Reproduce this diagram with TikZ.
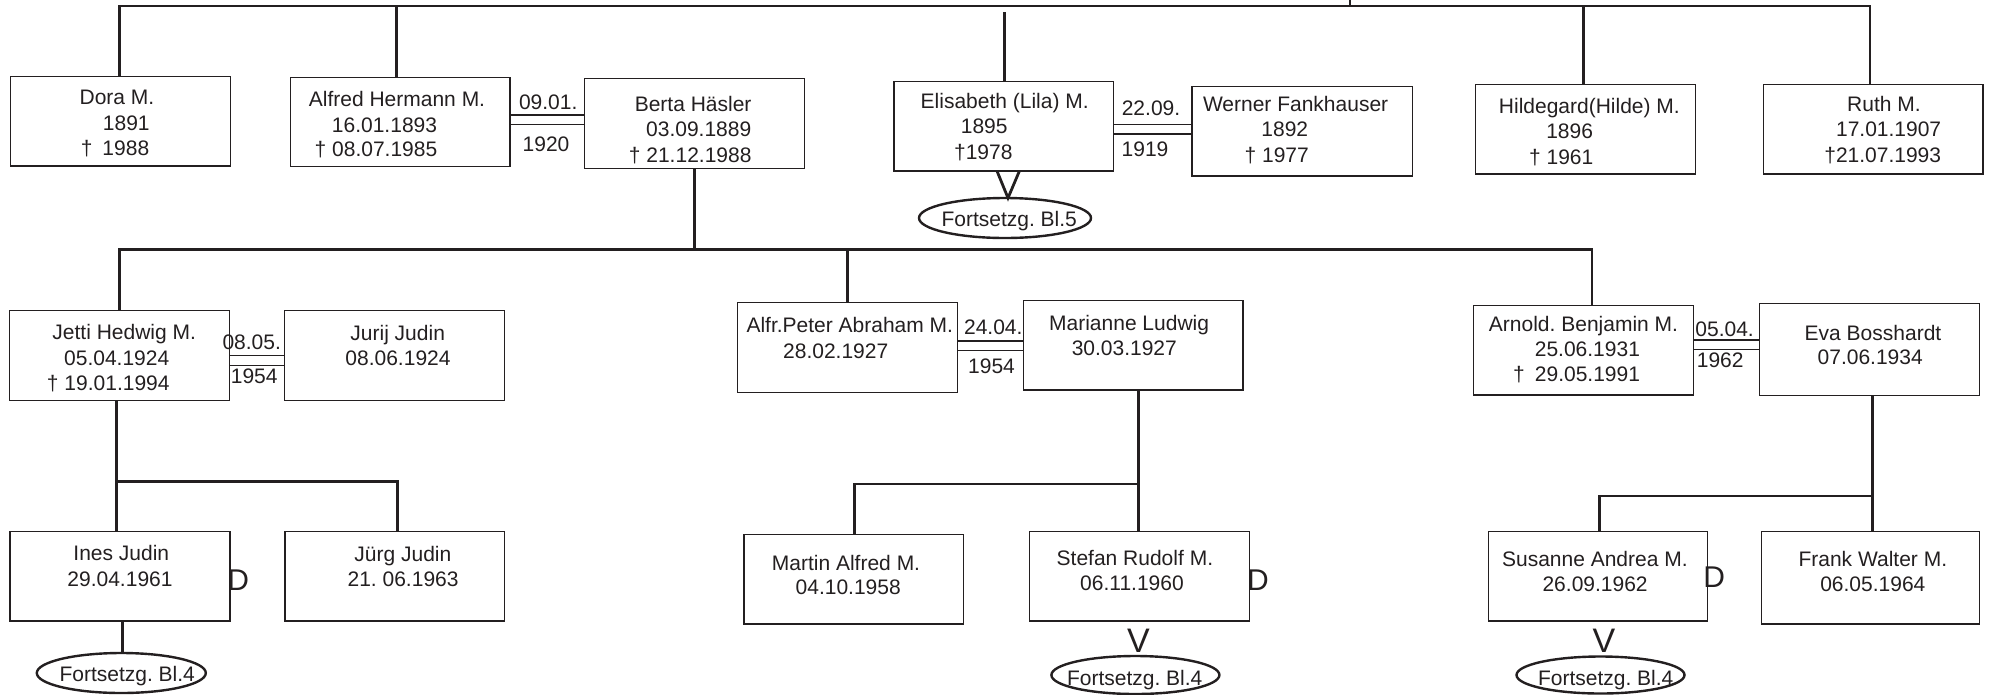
\documentclass[tikz,border=0pt]{standalone}
\usepackage{fontspec}
\setmainfont{Liberation Sans}
\usetikzlibrary{fit,shapes.geometric}
\definecolor{ink}{RGB}{35,31,32}
\newcommand\famrect[5]{\node[famb, fit={(#2,#3) (#4,#5)}] (#1) {};}
\newcommand\famline[4]{\node[famt] (#1) at (#2,#3) {#4};}
\frenchspacing
\begin{document}
\begin{tikzpicture}[x=1pt,y=-1pt,
  famb/.style={draw=ink, line width=1.4pt, rectangle, inner sep=0pt, outer sep=0pt},
  famt/.style={inner sep=0pt, anchor=base, text=ink, font=\fontsize{21}{25}\selectfont\frenchspacing},
  conn/.style={draw=ink, line width=2.8pt},
  marr/.style={draw=ink, line width=1.2pt},
  bigD/.style={inner sep=0pt, anchor=base, text=ink, font=\fontsize{30}{30}\selectfont},
  bigV/.style={inner sep=0pt, anchor=base, text=ink, font=\fontsize{34}{34}\selectfont},
  cont/.style={ellipse, draw=ink, line width=2.4pt, inner sep=0pt, outer sep=0pt}]
\useasboundingbox (0,0) rectangle (1991,694);

% ---------- row 1 boxes ----------
\famrect{dora}{10.7}{76.7}{230.7}{166}
\famrect{alfred}{290.6}{77.3}{510}{166.7}
\famrect{berta}{584.4}{78.7}{804.6}{168.3}
\famrect{elis}{894}{81.7}{1113.3}{171}
\famrect{werner}{1191.8}{86.7}{1412.3}{176}
\famrect{hilde}{1475.5}{84.3}{1695.3}{174}
\famrect{ruth}{1763.5}{84.3}{1982.9}{174}

\famline{doraA}{117}{104.3}{Dora M.}
\famline{doraB}{126.3}{130}{1891}
\famline{doraC}{115}{155}{†\hspace{10pt}1988}
\famline{alfA}{397}{106}{Alfred Hermann M.}
\famline{alfB}{384.5}{132}{16.01.1893}
\famline{alfC}{376}{156.7}{† 08.07.1985}
\famline{m1A}{548.2}{109.3}{09.01.}
\famline{m1B}{546}{151}{1920}
\famline{berA}{693.1}{111}{Berta Häsler}
\famline{berB}{698.7}{136}{03.09.1889}
\famline{berC}{690.2}{162.3}{† 21.12.1988}
\famline{elA}{1004.7}{108.3}{Elisabeth (Lila) M.}
\famline{elB}{984.2}{133.3}{1895}
\famline{elC}{983.3}{159}{†1978}
\famline{m2A}{1151}{115.7}{22.09.}
\famline{m2B}{1145}{156.7}{1919}
\famline{weA}{1295.6}{111}{Werner Fankhauser}
\famline{weB}{1284.8}{136}{1892}
\famline{weC}{1276.7}{162.3}{† 1977}
\famline{hiA}{1589.4}{113.3}{Hildegard(Hilde) M.}
\famline{hiB}{1569.6}{138.3}{1896}
\famline{hiC}{1561.2}{164}{† 1961}
\famline{ruA}{1883.9}{111.7}{Ruth M.}
\famline{ruB}{1888.6}{136.7}{17.01.1907}
\famline{ruC}{1882.7}{162.3}{†21.07.1993}

% ---------- row 2 boxes ----------
\famrect{jetti}{9.5}{310.7}{229.4}{400.5}
\famrect{jurij}{284.4}{310.7}{504.5}{400.7}
\famrect{alfrp}{737.7}{302.7}{957.5}{392.7}
\famrect{marianne}{1023.4}{300.3}{1243.1}{390}
\famrect{arnold}{1473.7}{305.3}{1693.7}{395}
\famrect{eva}{1759.3}{303.3}{1979.3}{395.7}

\famline{jeA}{124.2}{339.3}{Jetti Hedwig M.}
\famline{jeB}{116.7}{365}{05.04.1924}
\famline{jeC}{108.3}{390}{† 19.01.1994}
\famline{m3A}{251.7}{349.3}{08.05.}
\famline{m3B}{254.2}{383.3}{1954}
\famline{juA}{397.7}{340}{Jurij Judin}
\famline{juB}{398}{365}{08.06.1924}
\famline{apA}{849.8}{332.3}{Alfr.Peter Abraham M.}
\famline{apB}{835.7}{358.3}{28.02.1927}
\famline{m4A}{993.3}{334.3}{24.04.}
\famline{m4B}{991.5}{373.3}{1954}
\famline{maA}{1129.1}{330}{Marianne Ludwig}
\famline{maB}{1124.3}{355}{30.03.1927}
\famline{arA}{1583.5}{331}{Arnold. Benjamin M.}
\famline{arB}{1587.4}{356}{25.06.1931}
\famline{arC}{1576.6}{381.5}{†\hspace{10pt}29.05.1991}
\famline{m5A}{1724.6}{336}{05.04.}
\famline{m5B}{1720.2}{367.3}{1962}
\famline{evA}{1873}{340}{Eva Bosshardt}
\famline{evB}{1870.2}{364.5}{07.06.1934}

% ---------- row 3 boxes ----------
\famrect{ines}{10}{531.7}{230}{621}
\famrect{juerg}{284.8}{531.7}{504.5}{621}
\famrect{martin}{744}{534.3}{963.7}{624}
\famrect{stefan}{1029.6}{531.7}{1249.3}{621}
\famrect{susanne}{1488.2}{531.7}{1707.4}{621}
\famrect{frank}{1761.3}{531.7}{1979.3}{624}

\famline{inA}{121.3}{560}{Ines Judin}
\famline{inB}{120}{586.7}{29.04.1961}
\famline{jgA}{402.9}{561.7}{Jürg Judin}
\famline{jgB}{403.1}{586.7}{21. 06.1963}
\famline{mtA}{846}{570}{Martin Alfred M.}
\famline{mtB}{848.2}{594.3}{04.10.1958}
\famline{stA}{1134.9}{565}{Stefan Rudolf M.}
\famline{stB}{1132}{590}{06.11.1960}
\famline{suA}{1594.9}{566}{Susanne Andrea M.}
\famline{suB}{1595.1}{591.7}{26.09.1962}
\famline{frA}{1872.8}{566.7}{Frank Walter M.}
\famline{frB}{1872.8}{591.7}{06.05.1964}

\node[bigD] (dI) at (238.3,590) {D};
\node[bigD] (dS) at (1258,590.7) {D};
\node[bigD] (dA) at (1714.3,587.3) {D};
\node[bigV] (vS) at (1138.5,652.7) {V};
\node[bigV] (vA) at (1604,652.7) {V};

% ---------- continuation ellipses ----------
\node[cont, minimum width=172pt, minimum height=40pt] (f5) at (1005,218) {};
\node[cont, minimum width=169pt, minimum height=40pt] (fI) at (121.3,673) {};
\node[cont, minimum width=168pt, minimum height=38pt] (fS) at (1135.4,675) {};
\node[cont, minimum width=168pt, minimum height=37pt] (fA) at (1600.5,675) {};
\famline{f5t}{1009.2}{226}{Fortsetzg. Bl.5}
\famline{fIt}{127.2}{681.7}{Fortsetzg. Bl.4}
\famline{fSt}{1134.7}{685}{Fortsetzg. Bl.4}
\famline{fAt}{1605.7}{685}{Fortsetzg. Bl.4}

% ---------- generation 1 bar ----------
\coordinate (barL) at (119.3,6);
\coordinate (barR) at (1870,6);
\coordinate (tick) at (1350,0);
\coordinate (gapE) at (1004.6,11.7);
\draw[conn] (dora.north -| barL) -- (barL) -- (barR) -- (ruth.north -| barR);
\draw[conn] (alfred.north -| 396.6,0) -- (396.6,6 |- barL);
\draw[conn] (elis.north -| gapE) -- (gapE);
\draw[conn] (hilde.north -| 1583.4,0) -- (1583.4,0 |- barL);
\draw[conn] (tick) -- (tick |- barL);

% marriages row 1
\draw[marr] (alfred.east |- 0,115) -- (berta.west |- 0,115);
\draw[marr] (alfred.east |- 0,124.3) -- (berta.west |- 0,124.3);
\draw[marr] (elis.east |- 0,124.5) -- (werner.west |- 0,124.5);
\draw[marr] (elis.east |- 0,134) -- (werner.west |- 0,134);

% Elisabeth continuation
\draw[draw=ink, line width=2.8pt, line join=miter] (elis.south -| 997,0) -- (f5.north -| 1008,0) -- (elis.south -| 1019.4,0);

% ---------- generation 2 bar ----------
\coordinate (bar2L) at (119.6,249.3);
\coordinate (bar2R) at (1592,249.3);
\draw[conn] (berta.south) -- (berta.south |- bar2L);
\draw[conn] (jetti.north -| bar2L) -- (bar2L) -- (bar2R) -- (arnold.north -| bar2R);
\draw[conn] (alfrp.north -| 847.2,0) -- (847.2,0 |- bar2L);

% marriages row 2
\draw[marr] (jetti.east |- 0,355.7) -- (jurij.west |- 0,355.7);
\draw[marr] (jetti.east |- 0,365.3) -- (jurij.west |- 0,365.3);
\draw[marr] (alfrp.east |- 0,341) -- (marianne.west |- 0,341);
\draw[marr] (alfrp.east |- 0,350.7) -- (marianne.west |- 0,350.7);
\draw[marr] (arnold.east |- 0,340) -- (eva.west |- 0,340);
\draw[marr] (arnold.east |- 0,349.3) -- (eva.west |- 0,349.3);

% ---------- generation 3 ----------
\coordinate (k1) at (116.5,481.7);
\draw[conn] (jetti.south -| k1) -- (ines.north -| k1);
\draw[conn] (k1) -| (juerg.north -| 397.3,0);
\draw[conn] (ines.south -| 122.7,0) -- (fI.north -| 122.7,0);

\coordinate (k2) at (1138.6,484);
\draw[conn] (marianne.south -| k2) -- (stefan.north -| k2);
\draw[conn] (k2) -| (martin.north -| 854.6,0);

\coordinate (k3) at (1872.6,496);
\draw[conn] (eva.south -| k3) -- (frank.north -| k3);
\draw[conn] (k3) -| (susanne.north -| 1599.4,0);
\end{tikzpicture}
\end{document}
